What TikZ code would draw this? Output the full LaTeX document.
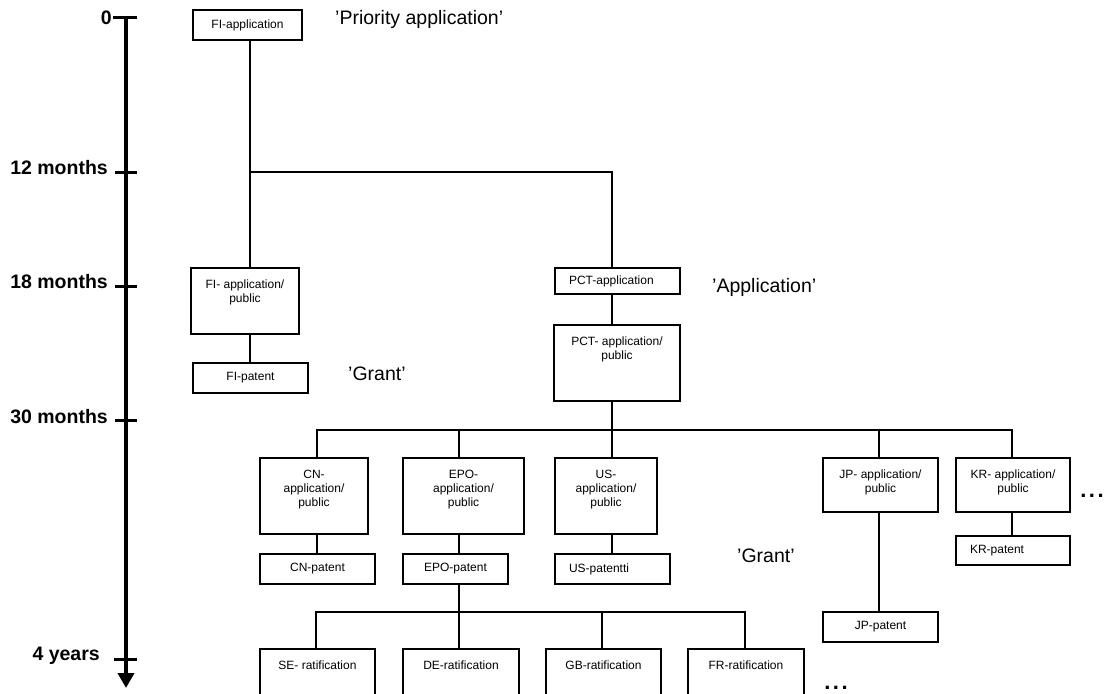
\documentclass[tikz,border=0pt]{standalone}
\usepackage{fontspec}
\setmainfont{Liberation Sans}
\usetikzlibrary{arrows.meta}
\newcommand\tbx[3]{\parbox[c][#2][t]{#1}{\centering\vspace*{10.5pt}\strut #3\par}}
\newcommand\lbx[3]{\parbox[c][#2][c]{#1}{\hspace*{14pt}#3}}
\newcommand\spdots{.\hspace{2.5pt}.\hspace{2.5pt}.}
\tikzset{
  box/.style={draw, line width=2pt, inner sep=0pt, anchor=north west, font=\fontsize{12}{14}\selectfont},
  conn/.style={line width=2pt},
  axlab/.style={font=\fontsize{19.5}{22}\selectfont\bfseries, anchor=base east, inner sep=0pt},
  qlab/.style={font=\fontsize{19.5}{22}\selectfont, anchor=base west, inner sep=0pt},
  dotlab/.style={font=\fontsize{22}{24}\selectfont\bfseries, anchor=base, inner sep=0pt},
  tick/.style={line width=3pt},
}
\begin{document}
\begin{tikzpicture}[x=1pt, y=-1pt]
\clip (0,0) rectangle (1105,693);
\fill[white] (0,0) rectangle (1105,693);

% timeline
\draw[line width=4.5pt, -{Triangle[width=16pt,length=15pt]}] (126,17) -- (126,688);
\draw[tick] (113,18) -- (137,18);
\draw[tick] (115,172) -- (137,172);
\draw[tick] (115,286) -- (137,286);
\draw[tick] (115,420) -- (137,420);
\draw[tick] (114,659) -- (137,659);
\node[axlab] (l0) at (112,25) {0};
\node[axlab] (l12) at (108,174) {12 months};
\node[axlab] (l18) at (108,288) {18 months};
\node[axlab] (l30) at (108,423) {30 months};
\node[axlab] (l4y) at (100,660) {4 years};

% labels
\node[qlab] (qp) at (335,25) {’Priority application’};
\node[qlab] (qa) at (712,292) {’Application’};
\node[qlab] (qg1) at (348,380) {’Grant’};
\node[qlab] (qg2) at (737,562) {’Grant’};
\node[dotlab] (d1) at (1092,497) {\spdots};
\node[dotlab] (d2) at (836,689) {\spdots};

% boxes
\node[box, minimum width=109pt, minimum height=30pt] (fia) at (192,9) {FI-application};
\node[box] (fipub) at (190,267) {\tbx{108pt}{66pt}{FI- application/\\public}};
\node[box, minimum width=115pt, minimum height=30pt] (fipat) at (192,362) {FI-patent};
\node[box] (pcta) at (554,267) {\lbx{125pt}{26pt}{PCT-application}};
\node[box] (pctpub) at (553,324) {\tbx{126pt}{76pt}{PCT- application/\\public}};

\node[box] (cn) at (259,457) {\tbx{108pt}{76pt}{CN-\\application/\\public}};
\node[box] (epo) at (402,457) {\tbx{121pt}{76pt}{EPO-\\application/\\public}};
\node[box] (us) at (554,457) {\tbx{102pt}{76pt}{US-\\application/\\public}};
\node[box] (jp) at (822,457) {\tbx{115pt}{54pt}{JP- application/\\public}};
\node[box] (kr) at (955,457) {\tbx{114pt}{54pt}{KR- application/\\public}};

\node[box, minimum width=115pt, minimum height=30pt] (cnpat) at (259,553) {CN-patent};
\node[box, minimum width=105pt, minimum height=30pt] (epopat) at (402,553) {EPO-patent};
\node[box] (uspat) at (554,553) {\lbx{115pt}{30pt}{US-patentti}};
\node[box] (krpat) at (955,535) {\lbx{114pt}{29pt}{KR-patent}};
\node[box, minimum width=115pt, minimum height=30pt] (jppat) at (822,611) {JP-patent};

\node[box] (se) at (259,648) {\tbx{115pt}{60pt}{SE- ratification}};
\node[box] (de) at (402,648) {\tbx{116pt}{60pt}{DE-ratification}};
\node[box] (gb) at (545,648) {\tbx{115pt}{60pt}{GB-ratification}};
\node[box] (fr) at (687,648) {\tbx{116pt}{60pt}{FR-ratification}};

% columns and buses
\coordinate (xfi) at (250,0);
\coordinate (xpct) at (612,0);
\coordinate (xcn) at (317,0);
\coordinate (xepo) at (459,0);
\coordinate (xus) at (612,0);
\coordinate (xjp) at (879,0);
\coordinate (xkr) at (1012,0);
\coordinate (xse) at (316,0);
\coordinate (xde) at (459,0);
\coordinate (xgb) at (602,0);
\coordinate (xfr) at (745,0);
\coordinate (j1) at (250,172);
\coordinate (bus1) at (0,430);
\coordinate (bus2) at (0,612);

% connectors
\draw[conn] (fia.south -| xfi) -- (fipub.north -| xfi);
\draw[conn] (fipub.south -| xfi) -- (fipat.north -| xfi);
\draw[conn] (j1) -| (pcta.north -| xpct);
\draw[conn] (pcta.south -| xpct) -- (pctpub.north -| xpct);
\draw[conn] (pctpub.south -| xpct) -- (bus1 -| xpct);
\draw[conn] (cn.north -| xcn) |- (bus1 -| xkr) -- (kr.north -| xkr);
\draw[conn] (bus1 -| xepo) -- (epo.north -| xepo);
\draw[conn] (bus1 -| xus) -- (us.north -| xus);
\draw[conn] (bus1 -| xjp) -- (jp.north -| xjp);
\draw[conn] (cn.south -| xcn) -- (cnpat.north -| xcn);
\draw[conn] (epo.south -| xepo) -- (epopat.north -| xepo);
\draw[conn] (us.south -| xus) -- (uspat.north -| xus);
\draw[conn] (jp.south -| xjp) -- (jppat.north -| xjp);
\draw[conn] (kr.south -| xkr) -- (krpat.north -| xkr);
\draw[conn] (epopat.south -| xepo) -- (de.north -| xde);
\draw[conn] (se.north -| xse) |- (bus2 -| xfr) -- (fr.north -| xfr);
\draw[conn] (bus2 -| xgb) -- (gb.north -| xgb);
\end{tikzpicture}
\end{document}
